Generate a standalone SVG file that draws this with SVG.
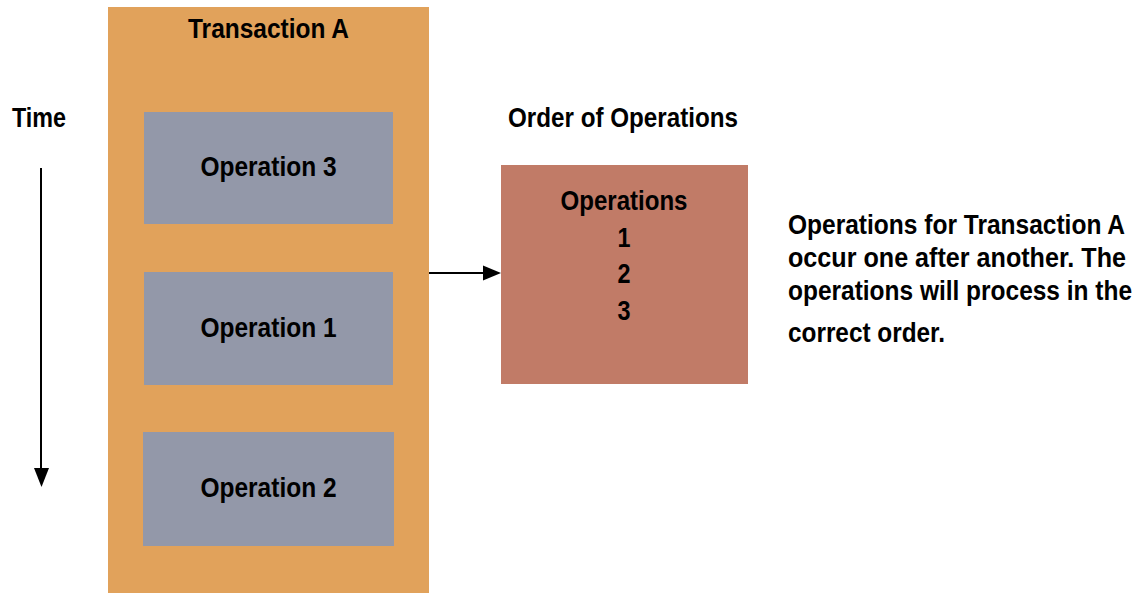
<svg xmlns="http://www.w3.org/2000/svg" width="1141" height="593" viewBox="0 0 1141 593">
<style>
.t{font-family:"Liberation Sans",Arial,sans-serif;font-weight:bold;font-size:28px;fill:#000}
.c{text-anchor:middle}
.op{fill:#9398A9}
</style>
<rect width="1141" height="593" fill="#fff"/>
<g id="transaction-a">
<rect x="108" y="7" width="321" height="587" fill="#E1A25B"/>
<text class="t c" x="268.5" y="38" textLength="161" lengthAdjust="spacingAndGlyphs">Transaction A</text>
</g>
<g id="operation-3">
<rect class="op" x="144" y="112" width="249" height="112"/>
<text class="t c" x="268.5" y="176" textLength="136" lengthAdjust="spacingAndGlyphs">Operation 3</text>
</g>
<g id="operation-1">
<rect class="op" x="144" y="272" width="249" height="113"/>
<text class="t c" x="268.5" y="337" textLength="136" lengthAdjust="spacingAndGlyphs">Operation 1</text>
</g>
<g id="operation-2">
<rect class="op" x="143" y="432" width="251" height="114"/>
<text class="t c" x="268.5" y="497" textLength="136" lengthAdjust="spacingAndGlyphs">Operation 2</text>
</g>
<g id="time-label">
<text class="t" x="12" y="127" textLength="54" lengthAdjust="spacingAndGlyphs">Time</text>
</g>
<g id="order-title">
<text class="t c" x="623" y="127" textLength="230" lengthAdjust="spacingAndGlyphs">Order of Operations</text>
</g>
<g id="operations-box">
<rect x="501" y="165" width="247" height="219" fill="#C17B67"/>
<text class="t c" x="624" y="210" textLength="127" lengthAdjust="spacingAndGlyphs">Operations</text>
<text class="t c" x="624" y="247" textLength="13" lengthAdjust="spacingAndGlyphs">1</text>
<text class="t c" x="624" y="283" textLength="13" lengthAdjust="spacingAndGlyphs">2</text>
<text class="t c" x="624" y="320" textLength="13" lengthAdjust="spacingAndGlyphs">3</text>
</g>
<g id="description">
<text class="t" x="788" y="234" textLength="337" lengthAdjust="spacingAndGlyphs">Operations for Transaction A</text>
<text class="t" x="788" y="267" textLength="338" lengthAdjust="spacingAndGlyphs">occur one after another. The</text>
<text class="t" x="788" y="300" textLength="344" lengthAdjust="spacingAndGlyphs">operations will process in the</text>
<text class="t" x="788" y="342" textLength="157" lengthAdjust="spacingAndGlyphs">correct order.</text>
</g>
<g id="connectors" stroke="#000" stroke-width="2" fill="none">
<line x1="41" y1="168" x2="41" y2="470"/>
<path d="M34,468 L49,468 L41.5,487 z" fill="#000" stroke="none"/>
<line x1="429" y1="273" x2="484" y2="273"/>
<path d="M483,265.5 L501,273 L483,280.5 z" fill="#000" stroke="none"/>
</g>
</svg>
